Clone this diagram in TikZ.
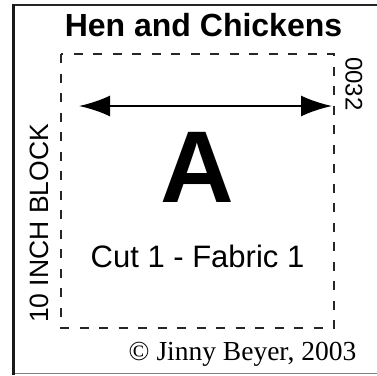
\documentclass[tikz,border=0pt]{standalone}
\usepackage{fontspec}
\setmainfont{Liberation Serif}
\setsansfont{Liberation Sans}
\usetikzlibrary{arrows.meta}
\tikzset{
  cutline/.style={line width=2.6pt, dash pattern=on 9pt off 10.5pt, black!85},
  dimarrow/.style={line width=2.4pt, {Latex[length=31pt,width=21pt]}-{Latex[length=31pt,width=21pt]}},
  lbl/.style={inner sep=0pt, anchor=base, font=\sffamily},
}
\begin{document}
\begin{tikzpicture}[x=1pt,y=1pt]
\useasboundingbox (0,0) rectangle (377,-375);
% outer frame
\draw[line width=2pt, black!85] (12.5,-5) -- (377,-5);
\draw[line width=1.5pt, black!50] (12.5,-373.5) -- (377,-373.5);
\draw[line width=3pt, black!90] (13.5,-4) -- (13.5,-375);
% dashed cutting line
\draw[cutline] (61,-54) rectangle (334,-328);
% title
\node[lbl, font=\sffamily\bfseries\fontsize{32}{32}\selectfont] (title) at (203.5,-36) {Hen and Chickens};
% arrow
\coordinate (al) at (79,-106);
\coordinate (ar) at (332,-106);
\draw[dimarrow] (al) -- (ar);
% big letter
\node[lbl, font=\sffamily\bfseries\fontsize{102}{102}\selectfont] (A) at (197,-202) {A};
% cut text
\node[lbl, font=\sffamily\fontsize{31}{31}\selectfont] (cut) at (197.5,-267) {Cut 1 - Fabric 1};
% side labels
\node[lbl, font=\sffamily\fontsize{26.5}{26.5}\selectfont, rotate=90] (block) at (48,-223.5) {10 INCH BLOCK};
\node[lbl, font=\sffamily\fontsize{24}{24}\selectfont, rotate=-90] (num) at (345.5,-84) {0032};
% copyright
\node[lbl, font=\rmfamily\fontsize{27.5}{27.5}\selectfont] (copy) at (242.5,-360) {© Jinny Beyer, 2003};
\end{tikzpicture}
\end{document}
